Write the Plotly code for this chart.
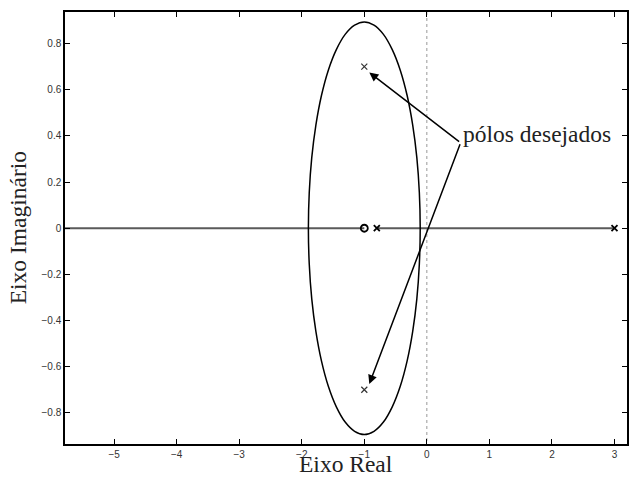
import plotly.graph_objects as go

# Root locus branch (complex part)
locus_x = [-0.106, -0.120, -0.160, -0.226, -0.315, -0.425, -0.553, -0.694, -0.845, -1.000,
           -1.155, -1.306, -1.447, -1.575, -1.685, -1.774, -1.840, -1.880, -1.894,
           -1.880, -1.840, -1.774, -1.685, -1.575, -1.447, -1.306, -1.155, -1.000,
           -0.845, -0.694, -0.553, -0.425, -0.315, -0.226, -0.160, -0.120, -0.106]
locus_y = [0.000, 0.155, 0.306, 0.447, 0.575, 0.685, 0.774, 0.840, 0.880, 0.894,
           0.880, 0.840, 0.774, 0.685, 0.575, 0.447, 0.306, 0.155, 0.000,
           -0.155, -0.306, -0.447, -0.575, -0.685, -0.774, -0.840, -0.880, -0.894,
           -0.880, -0.840, -0.774, -0.685, -0.575, -0.447, -0.306, -0.155, 0.000]

# Real-axis locus segments
real_seg1_x = [-6.0, -1.0]
real_seg2_x = [-0.8, 3.0]

# Open-loop poles, zero and desired poles
poles_x = [-0.8, 3.0]
poles_y = [0.0, 0.0]
zero_x = [-1.0]
zero_y = [0.0]
desired_x = [-1.0, -1.0]
desired_y = [0.7, -0.7]

label_text = "pólos desejados"
label_pos = (0.54, 0.37)
arrow_tips = [(-0.92, 0.675), (-0.92, -0.675)]

x_ticks = [-5, -4, -3, -2, -1, 0, 1, 2, 3]
y_ticks = [-0.8, -0.6, -0.4, -0.2, 0, 0.2, 0.4, 0.6, 0.8]

fig = go.Figure()

# vertical dotted reference line at x = 0
fig.add_trace(go.Scatter(x=[0, 0], y=[-1, 1], mode="lines",
                         line=dict(color="#999999", width=1, dash="dot"),
                         hoverinfo="skip"))

for seg in (real_seg1_x, real_seg2_x):
    fig.add_trace(go.Scatter(x=seg, y=[0, 0], mode="lines",
                             line=dict(color="#5a5a5a", width=2.2)))

fig.add_trace(go.Scatter(x=locus_x, y=locus_y, mode="lines",
                         line=dict(color="black", width=1.5, shape="spline")))

fig.add_trace(go.Scatter(x=poles_x, y=poles_y, mode="markers",
                         marker=dict(symbol="x-thin", size=6, color="black",
                                     line=dict(color="black", width=1.8))))
fig.add_trace(go.Scatter(x=desired_x, y=desired_y, mode="markers",
                         marker=dict(symbol="x-thin", size=6, color="#333333",
                                     line=dict(color="#333333", width=1.2))))
fig.add_trace(go.Scatter(x=zero_x, y=zero_y, mode="markers",
                         marker=dict(symbol="circle-open", size=7, color="black",
                                     line=dict(color="black", width=1.8))))

# arrows from label to desired poles
for tx, ty in arrow_tips:
    fig.add_annotation(x=tx, y=ty, ax=label_pos[0], ay=label_pos[1],
                       xref="x", yref="y", axref="x", ayref="y",
                       text="", showarrow=True, arrowhead=2, arrowsize=1.2,
                       arrowwidth=1.5, arrowcolor="black")

fig.add_annotation(x=label_pos[0], y=0.41, xref="x", yref="y",
                   text=label_text, showarrow=False, xanchor="left",
                   yanchor="middle",
                   font=dict(family="Liberation Serif", size=23.5, color="#222222"))

# axis titles
fig.add_annotation(x=0.5, y=-0.081, xref="paper", yref="paper",
                   text="Eixo Real", showarrow=False, xanchor="center",
                   yanchor="bottom",
                   font=dict(family="Liberation Serif", size=23.5, color="#222222"))
fig.add_annotation(x=-0.083, y=0.5, xref="paper", yref="paper",
                   text="Eixo Imaginário", showarrow=False, textangle=-90,
                   xanchor="center", yanchor="middle",
                   font=dict(family="Liberation Serif", size=23.5, color="#222222"))

axis_common = dict(showgrid=False, zeroline=False, showline=True,
                   linecolor="black", linewidth=1.5, mirror="ticks",
                   ticks="inside", ticklen=5, tickwidth=1, tickcolor="black",
                   tickfont=dict(family="Liberation Sans", size=10, color="#333333"))

fig.update_xaxes(range=[-5.785, 3.2], tickvals=x_ticks, **axis_common)
fig.update_yaxes(range=[-0.935, 0.937], tickvals=y_ticks,
                 ticktext=["\u22120.8", "\u22120.6", "\u22120.4", "\u22120.2", "0",
                           "0.2", "0.4", "0.6", "0.8"], **axis_common)

fig.update_layout(width=631, height=479, showlegend=False,
                  margin=dict(l=65, r=2, t=12, b=35),
                  paper_bgcolor="white", plot_bgcolor="white")

fig.write_html("out.html")
